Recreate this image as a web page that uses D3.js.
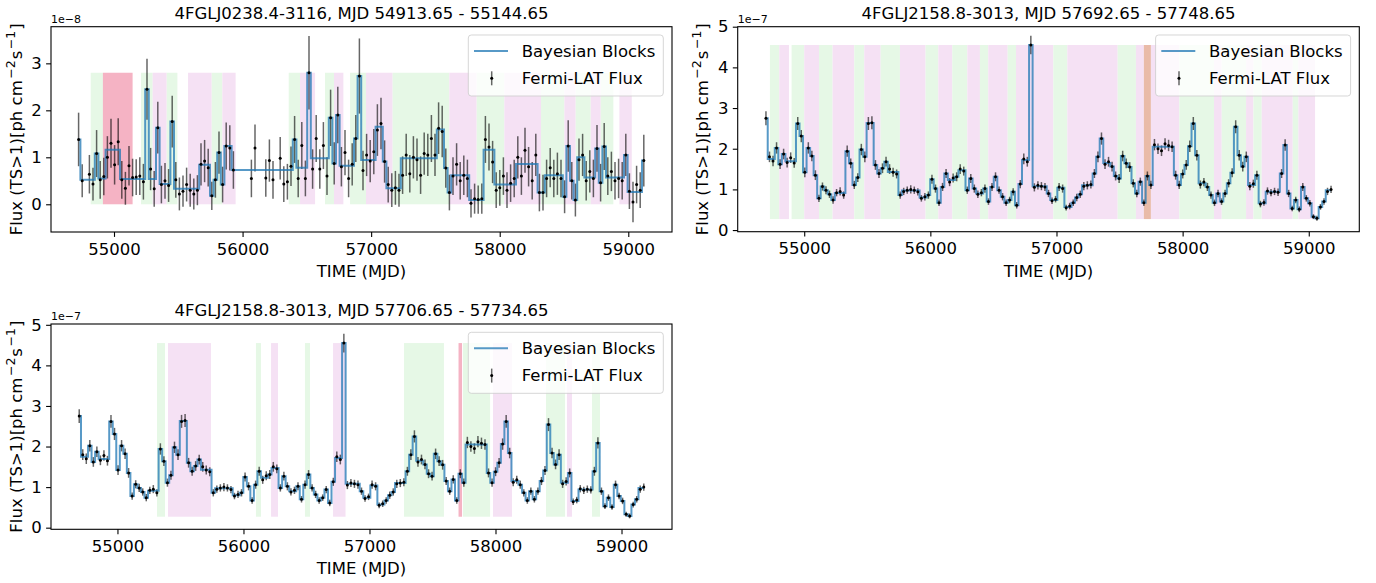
<!DOCTYPE html>
<html lang="en">
<head>
<meta charset="UTF-8" />
<title>Fermi-LAT light curves with Bayesian Blocks</title>
<style>
  body { margin: 0; background: #fff; }
  svg text { font-family: "DejaVu Sans", sans-serif; fill: #000; }
</style>
</head>
<body>
<svg width="1376" height="583"></svg>
<script src="https://d3js.org/d3.v7.min.js"></script>
<script>
// 28-day Fermi-LAT bins, bin k is centred on binStart + binWidth*(k+0.5)
var binStart = 54682.65, binWidth = 28;

// ---------- 4FGLJ0238.4-3116 (flux in 1e-8 ph cm-2 s-1) ----------
var binsA = [1,2,4,5,6,7,8,9,10,11, 12,13,14,15,16,17,18,19,20,21,
  22,23,24,25,26,27,28,29,30,31, 32,33,34,35,36,37,38,39,40,41,
  42,43,44,49,50,53,54,55,57,58, 59,60,61,62,63,64,65,66,67,68,
  69,70,71,72,73,74,75,76,77,78, 79,80,81,82,83,84,85,86,87,88,
  89,90,91,92,93,94,95,96,97,98, 99,100,101,102,103,104,105,106,107,108,
  109,110,111,112,113,114,115,116,117,118, 119,120,121,122,123,124,125,126,127,128,
  129,130,131,132,133,134,135,136,137,138, 139,140,141,142,143,144,145,146,147,148,
  149,150,151,152,153,154,155,156,157,158];
var fluxA = [1.38,0.50,0.64,0.43,1.08,0.52,0.59,1.00,1.30,0.84, 1.33,0.52,0.34,0.82,0.57,0.58,0.60,0.48,2.45,0.75,
  0.33,1.63,0.42,0.50,0.40,1.76,0.52,0.22,0.28,0.42, 0.30,0.22,0.30,0.85,0.92,0.78,0.18,0.52,1.10,0.42,
  1.24,1.20,0.73,0.55,1.20,0.56,0.93,0.52,0.98,0.43, 0.48,0.81,1.38,0.55,1.25,0.55,2.80,0.75,1.40,0.75,
  1.25,0.60,1.84,0.87,1.90,0.80,1.10,0.55,0.85,1.40, 2.73,0.72,1.05,0.92,1.12,1.58,1.72,0.91,0.42,0.30,
  0.35,0.30,0.62,1.05,0.65,1.00,0.95,0.62,1.08,1.05, 1.40,1.05,1.62,1.55,0.77,0.25,0.60,0.85,0.50,0.62,
  0.55,0.02,0.12,0.10,0.12,1.38,1.22,0.90,0.30,0.35, 0.60,0.30,0.45,0.55,1.00,0.60,1.15,0.80,0.50,1.05,
  0.25,0.25,0.55,0.78,0.55,0.65,0.55,0.16,1.24,0.50, 0.09,0.95,1.05,0.50,0.70,0.55,1.19,0.46,1.23,0.60,
  0.70,0.50,0.55,0.50,1.05,0.28,0.05,0.42,0.30,0.93];
var errA = [.57,.35,.41,.35,.50,.40,.40,.45,.52,.42, .50,.40,.35,.42,.40,.38,.40,.38,.65,.45,
  .38,.55,.40,.38,.35,.55,.38,.35,.33,.36, .35,.33,.32,.45,.45,.40,.30,.38,.45,.38,
  .50,.48,.40,.40,.50,.40,.45,.40,.45,.38, .38,.42,.50,.40,.50,.38,.78,.42,.50,.42,
  .50,.40,.60,.45,.60,.42,.48,.40,.45,.50, .80,.42,.45,.45,.48,.55,.55,.45,.38,.36,
  .36,.35,.40,.45,.40,.45,.45,.40,.45,.45, .50,.45,.55,.55,.42,.38,.40,.45,.40,.42,
  .40,.30,.32,.30,.32,.50,.50,.45,.38,.38, .40,.38,.40,.40,.45,.40,.48,.42,.40,.45,
  .40,.38,.40,.42,.40,.45,.40,.35,.55,.40, .35,.45,.45,.42,.45,.40,.50,.40,.50,.40,
  .42,.40,.42,.40,.45,.38,.43,.40,.38,.55];
// Bayesian blocks: first bin of each block and block flux
var blockBinA = [1,2,6,7,9,13,20,21,23,24,27,28,35,38,39,40,41,42,44,61,62,65,66,71,72,73,74,78,79,80,
  84,86,87,91,101,103,104,105,110,114,117,123,129,131,136,137,138,139,140,142,145,146,147,148,153,154,158];
var blockFluxA = [1.38,0.52,1.08,0.55,1.16,0.54,2.45,0.54,1.63,0.43,1.76,0.33,0.84,0.18,0.52,1.10,0.42,1.24,0.73,1.38,0.78,2.80,0.98,1.84,0.87,1.90,0.82,1.40,2.73,0.94,
  1.65,0.91,0.34,0.98,1.59,0.77,0.25,0.62,0.09,1.16,0.42,0.86,0.25,0.62,0.16,1.24,0.50,0.09,1.00,0.57,1.19,0.46,1.23,0.57,1.05,0.26,0.93];
// shaded intervals [start MJD, end MJD, kind]
var spansA = [[54819,54913.65,"g"],[54913.65,55144.65,"r"],[55210,55301,"g"],[55301,55410,"p"],[55410,55493,"g"],
  [55576,55760,"p"],[55760,55843,"g"],[55843,55946,"p"],[56359,56447,"g"],[56447,56564,"p"],[56641,56711,"g"],
  [56711,56784,"p"],[56836,56960,"g"],[56960,57167,"p"],[57167,57608,"g"],[57608,57821,"p"],[57821,58036,"g"],
  [58036,58321,"p"],[58321,58503,"g"],[58503,58591,"p"],[58591,58708,"g"],[58708,58786,"p"],[58786,58884,"g"],
  [58931,59027,"p"]];

// ---------- 4FGLJ2158.8-3013 (flux in 1e-7 ph cm-2 s-1) ----------
var binsB = d3.range(161);
var fluxB = [2.75,1.80,1.70,2.02,1.62,1.87,1.66,1.78,1.65,2.62, 2.31,1.42,2.02,1.82,1.35,0.78,1.07,0.98,0.88,0.74,
  0.92,0.95,0.86,1.94,1.64,1.11,1.29,1.98,1.80,2.62, 2.64,1.60,1.39,1.52,1.68,1.50,1.42,1.38,0.86,0.95,
  0.98,1.00,0.98,0.94,0.78,0.82,0.86,1.25,1.02,0.67, 1.06,1.39,1.18,1.28,1.31,1.50,1.45,0.98,1.27,1.02,
  0.88,0.92,1.02,0.70,1.06,1.31,0.98,0.82,0.67,0.74, 0.94,0.61,1.13,1.75,1.68,4.55,1.05,1.10,1.08,1.06,
  0.90,0.72,0.76,1.06,1.02,0.55,0.59,0.67,0.80,0.88, 1.08,1.10,1.12,1.39,1.80,2.25,1.62,1.68,1.56,1.33,
  1.27,1.82,1.64,1.55,1.15,0.90,1.19,0.67,1.33,1.11, 2.10,2.00,1.95,2.12,2.08,2.05,1.35,1.11,1.38,1.60,
  2.06,2.62,1.84,1.12,1.18,1.06,0.86,0.67,0.90,0.70, 0.90,1.15,1.41,2.54,1.84,1.56,1.80,1.08,1.14,1.35,
  0.64,0.68,0.96,0.92,0.95,0.93,1.39,2.09,0.90,0.53, 0.74,0.51,1.06,0.78,0.66,0.33,0.29,0.57,0.70,0.95,
  1.00];
var errB = [.17,.13,.13,.14,.12,.13,.12,.13,.12,.16, .15,.12,.14,.13,.12,.09,.10,.10,.09,.09,
  .09,.10,.09,.14,.12,.10,.11,.14,.13,.16, .16,.12,.11,.12,.12,.12,.11,.11,.09,.09,
  .09,.10,.09,.09,.08,.09,.09,.11,.10,.08, .10,.11,.10,.11,.11,.12,.11,.09,.11,.10,
  .09,.09,.10,.08,.10,.11,.09,.09,.08,.08, .09,.08,.10,.13,.12,.23,.10,.10,.10,.10,
  .09,.08,.08,.10,.10,.07,.08,.08,.09,.09, .10,.10,.10,.11,.13,.15,.12,.12,.12,.11,
  .11,.13,.12,.12,.10,.09,.10,.08,.11,.10, .14,.13,.13,.14,.14,.13,.11,.10,.11,.12,
  .14,.16,.13,.10,.10,.10,.09,.08,.09,.08, .09,.10,.11,.16,.13,.12,.13,.10,.10,.11,
  .08,.08,.09,.09,.09,.09,.11,.14,.09,.07, .08,.07,.10,.08,.08,.06,.06,.07,.08,.09,
  .09];
var blockBinB = [0,1,3,4,5,6,9,10,11,12,13,14,15,16,17,18,19,20,23,24,25,26,27,28,29,31,32,33,34,35,
  38,39,44,46,47,48,49,50,51,52,54,55,57,58,59,60,62,63,64,65,66,67,68,69,70,71,72,73,75,76,
  80,81,83,85,87,88,89,90,93,94,95,96,98,99,100,101,102,103,104,105,106,107,108,109,110,116,117,118,119,120,
  121,122,123,125,126,127,128,129,130,131,132,133,134,135,136,137,139,140,142,146,147,148,149,150,151,152,153,154,155,156,
  157,158,159];
var blockFluxB = [2.75,1.75,2.02,1.62,1.87,1.69,2.62,2.31,1.42,2.02,1.82,1.35,0.78,1.07,0.98,0.88,0.74,0.91,1.94,1.64,1.11,1.29,1.98,1.80,2.63,1.60,1.39,1.52,1.68,1.43,
  0.86,0.97,0.80,0.86,1.25,1.02,0.67,1.06,1.39,1.23,1.31,1.47,0.98,1.27,1.02,0.90,1.02,0.70,1.06,1.31,0.98,0.82,0.67,0.74,0.94,0.61,1.13,1.72,4.55,1.08,
  0.90,0.74,1.04,0.57,0.67,0.80,0.88,1.10,1.39,1.80,2.25,1.65,1.56,1.33,1.27,1.82,1.64,1.55,1.15,0.90,1.19,0.67,1.33,1.11,2.05,1.35,1.11,1.38,1.60,2.06,
  2.62,1.84,1.15,1.06,0.86,0.67,0.90,0.70,0.90,1.15,1.41,2.54,1.84,1.56,1.80,1.11,1.35,0.66,0.94,1.39,2.09,0.90,0.53,0.74,0.51,1.06,0.78,0.66,0.33,0.29,
  0.57,0.70,0.98];
var spansB = [[54728,54802,"g"],[54802,54879,"p"],[54900,55000,"g"],[55000,55117,"p"],[55117,55225,"g"],[55225,55397,"p"],
  [55397,55476,"g"],[55476,55606,"p"],[55606,55759,"g"],[55759,55962,"p"],[55962,56063,"g"],[56063,56174,"p"],
  [56174,56293,"g"],[56293,56393,"p"],[56393,56459,"g"],[56459,56613,"p"],[56613,56679,"g"],[56679,56975,"p"],
  [56975,57086,"g"],[57086,57485,"p"],[57485,57630,"g"],[57630,57692.65,"p"],[57692.65,57748.65,"o"],[57748.65,57974,"p"],
  [57974,58249,"g"],[58249,58310,"p"],[58310,58503,"g"],[58503,58561,"p"],[58561,58627,"g"],[58627,58873,"p"],
  [58873,58918,"g"],[58918,59050,"p"]];
var spansC = [[55314,55377,"g"],[55401,55742,"p"],[56099,56139,"g"],[56219,56274,"p"],[56488,56528,"g"],[56711,56810,"p"],
  [57274,57591,"g"],[57706.65,57734.65,"r"],[57742,57957,"g"],[57980,58131,"p"],[58401,58552,"g"],[58567,58607,"p"],
  [58766,58829,"g"]];

var xTicks = [55000, 56000, 57000, 58000, 59000];
var spanColor = {g: "#e6f8e6", p: "#f5e1f4", r: "#f5b3c4", o: "#e9bba8"};
var blockColor = "#1f77b4";

var svg = d3.select("svg");

var panels = [
  {title: "4FGLJ0238.4-3116, MJD 54913.65 - 55144.65", left: 51, top: 26.7, width: 621, height: 205.3,
   xDomain: [54510, 59340], yDomain: [-0.59, 3.78], yTicks: [0, 1, 2, 3], expo: "1e\u22128",
   bins: binsA, flux: fluxA, err: errA, blockBin: blockBinA, blockFlux: blockFluxA, spans: spansA, band: [0, 2.8]},
  {title: "4FGLJ2158.8-3013, MJD 57692.65 - 57748.65", left: 737.7, top: 26.7, width: 621.6, height: 205,
   xDomain: [54472.65, 59400.65], yDomain: [-0.04, 5.0], yTicks: [0, 1, 2, 3, 4, 5], expo: "1e\u22127",
   bins: binsB, flux: fluxB, err: errB, blockBin: blockBinB, blockFlux: blockFluxB, spans: spansB, band: [0.27, 4.55]},
  {title: "4FGLJ2158.8-3013, MJD 57706.65 - 57734.65", left: 51, top: 324, width: 621, height: 205.3,
   xDomain: [54472.65, 59400.65], yDomain: [-0.04, 5.02], yTicks: [0, 1, 2, 3, 4, 5], expo: "1e\u22127",
   bins: binsB, flux: fluxB, err: errB, blockBin: blockBinB, blockFlux: blockFluxB, spans: spansC, band: [0.27, 4.55]}
];

panels.forEach(drawPanel);

function drawPanel(p) {
  var g = svg.append("g").attr("transform", "translate(" + p.left + "," + p.top + ")");
  var x = d3.scaleLinear().domain(p.xDomain).range([0, p.width]);
  var y = d3.scaleLinear().domain(p.yDomain).range([p.height, 0]);

  var pts = p.bins.map(function(k, i) {
    return {t: binStart + binWidth * (k + 0.5), v: p.flux[i], e: p.err[i]};
  });

  // shaded intervals
  g.append("g").selectAll("rect")
    .data(p.spans)
    .enter().append("rect")
    .attr("x", function(d) { return x(d[0]); })
    .attr("width", function(d) { return x(d[1]) - x(d[0]); })
    .attr("y", y(p.band[1]))
    .attr("height", y(p.band[0]) - y(p.band[1]))
    .attr("fill", function(d) { return spanColor[d[2]]; });

  // error bars
  g.append("g").selectAll("line")
    .data(pts)
    .enter().append("line")
    .attr("x1", function(d) { return x(d.t); })
    .attr("x2", function(d) { return x(d.t); })
    .attr("y1", function(d) { return y(d.v - d.e); })
    .attr("y2", function(d) { return y(d.v + d.e); })
    .attr("stroke", "#000")
    .attr("stroke-opacity", 0.6)
    .attr("stroke-width", 1.5);

  // bayesian blocks as a step line from first to last point
  var tFirst = pts[0].t, tLast = pts[pts.length - 1].t;
  var steps = p.blockBin.map(function(k, i) {
    return {t: i === 0 ? tFirst : binStart + binWidth * k, v: p.blockFlux[i]};
  });
  steps.push({t: tLast, v: p.blockFlux[p.blockFlux.length - 1]});
  g.append("path")
    .datum(steps)
    .attr("fill", "none")
    .attr("stroke", blockColor)
    .attr("stroke-opacity", 0.75)
    .attr("stroke-width", 2)
    .attr("d", d3.line().curve(d3.curveStepAfter)
      .x(function(d) { return x(d.t); })
      .y(function(d) { return y(d.v); }));

  g.append("g").selectAll("circle")
    .data(pts)
    .enter().append("circle")
    .attr("cx", function(d) { return x(d.t); })
    .attr("cy", function(d) { return y(d.v); })
    .attr("r", 1.5)
    .attr("fill", "#000");

  // axes
  var ax = g.append("g")
    .attr("transform", "translate(0," + p.height + ")")
    .call(d3.axisBottom(x).tickValues(xTicks).tickFormat(d3.format("d")).tickSize(4.9).tickPadding(6).tickSizeOuter(0));
  var ay = g.append("g")
    .call(d3.axisLeft(y).tickValues(p.yTicks).tickFormat(d3.format("d")).tickSize(4.9).tickPadding(4.4).tickSizeOuter(0));
  [ax, ay].forEach(function(a) {
    a.select(".domain").remove();
    a.selectAll("line").attr("stroke", "#000").attr("stroke-width", 1.1);
    a.selectAll("text").attr("font-size", "16.5px").attr("font-family", "DejaVu Sans").attr("fill", "#000");
  });

  g.append("rect")
    .attr("width", p.width).attr("height", p.height)
    .attr("fill", "none").attr("stroke", "#000").attr("stroke-width", 1.1);

  // offset text, title, axis labels
  g.append("text").attr("x", 0).attr("y", -3.7).attr("font-size", "11px").text(p.expo);

  g.append("text")
    .attr("x", p.width / 2).attr("y", -8.2)
    .attr("text-anchor", "middle").attr("font-size", "16.5px")
    .text(p.title);

  g.append("text")
    .attr("x", p.width / 2).attr("y", p.height + 45)
    .attr("text-anchor", "middle").attr("font-size", "16.5px")
    .text("TIME (MJD)");

  var yl = g.append("text")
    .attr("transform", "translate(-29.5," + (p.height / 2) + ") rotate(-90)")
    .attr("text-anchor", "middle").attr("font-size", "16.5px");
  yl.append("tspan").text("Flux (TS>1)[ph cm");
  yl.append("tspan").attr("dx", 1.5).attr("dy", -7).attr("font-size", "12.5px").text("\u22122");
  yl.append("tspan").attr("dx", 1).attr("dy", 7).text("s");
  yl.append("tspan").attr("dx", 1.5).attr("dy", -7).attr("font-size", "12.5px").text("\u22121");
  yl.append("tspan").attr("dx", 1).attr("dy", 7).text("]");

  // legend
  var lw = 195, lh = 61;
  var lg = g.append("g").attr("transform", "translate(" + (p.width - 8.7 - lw) + ",8.3)");
  lg.append("rect")
    .attr("width", lw).attr("height", lh).attr("rx", 3)
    .attr("fill", "#fff").attr("fill-opacity", 0.8)
    .attr("stroke", "#ccc").attr("stroke-opacity", 0.8);
  lg.append("line")
    .attr("x1", 5.7).attr("x2", 39.7).attr("y1", 16).attr("y2", 16)
    .attr("stroke", blockColor).attr("stroke-opacity", 0.75).attr("stroke-width", 2);
  lg.append("text").attr("x", 53.4).attr("y", 21.8).attr("font-size", "16.5px").text("Bayesian Blocks");
  lg.append("line")
    .attr("x1", 23.4).attr("x2", 23.4).attr("y1", 36.3).attr("y2", 50.3)
    .attr("stroke", "#000").attr("stroke-opacity", 0.6).attr("stroke-width", 1.5);
  lg.append("circle").attr("cx", 23.4).attr("cy", 43.3).attr("r", 1.5).attr("fill", "#000");
  lg.append("text").attr("x", 53.4).attr("y", 49.1).attr("font-size", "16.5px").text("Fermi-LAT Flux");
}
</script>
</body>
</html>
